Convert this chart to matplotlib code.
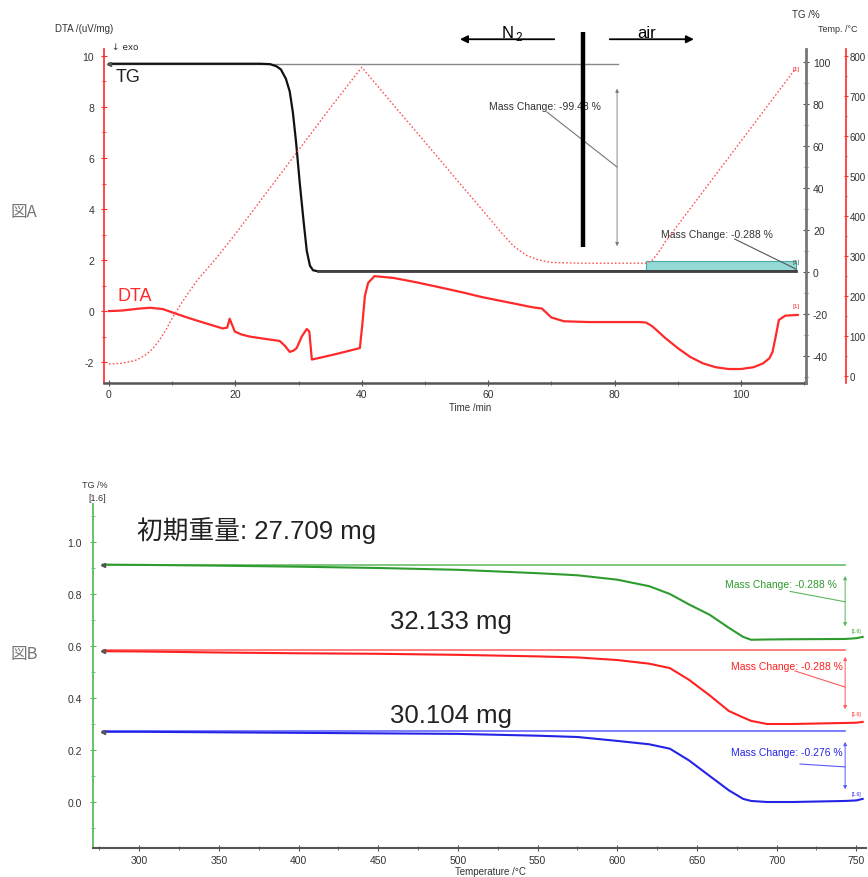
import matplotlib
matplotlib.use('Agg')
import matplotlib.pyplot as plt
from matplotlib.ticker import MultipleLocator

plt.rcParams['font.family'] = ['Liberation Sans', 'Noto Sans CJK JP', 'DejaVu Sans']
plt.rcParams['mathtext.fontset'] = 'custom'
plt.rcParams['mathtext.rm'] = 'Liberation Sans'
plt.rcParams['axes.unicode_minus'] = False

# ---------------- Panel A data ----------------
time_dta = [0, 2, 4.9, 6.5, 8.5, 10, 12, 14, 16, 18, 18.7, 19.1, 19.5, 19.9, 21, 22.3, 25, 27,
            27.8, 28.6, 29.2, 29.7, 30.5, 31.3, 31.7, 32.1, 33, 36, 39.7, 40.1, 40.5, 41, 42,
            45, 48.6, 52, 56, 59, 63, 67, 68.5, 70, 72, 76, 80, 84, 85, 86, 88, 90, 92, 94,
            96, 98, 100, 102, 103.5, 104.5, 105, 105.5, 106, 107, 109]
dta = [0, 0.02, 0.1, 0.13, 0.08, -0.05, -0.22, -0.38, -0.53, -0.68, -0.65, -0.3, -0.55, -0.8,
       -0.92, -1.0, -1.1, -1.17, -1.35, -1.6, -1.55, -1.45, -1.0, -0.7, -0.8, -1.9, -1.85, -1.68,
       -1.45, -0.5, 0.6, 1.1, 1.37, 1.3, 1.13, 0.95, 0.73, 0.55, 0.35, 0.15, 0.1, -0.25, -0.4,
       -0.43, -0.43, -0.43, -0.45, -0.6, -1.05, -1.45, -1.8, -2.05, -2.2, -2.27, -2.27, -2.2,
       -2.05, -1.85, -1.6, -1.0, -0.35, -0.18, -0.15]

time_tg = [0, 24, 25.5, 26.5, 27.2, 28, 28.6, 29.1, 29.6, 30.2, 30.8, 31.3, 31.8, 32.3, 33,
           60, 85, 108.7]
tg = [99.2, 99.2, 99.0, 98, 96.5, 92, 86, 76, 62, 42, 24, 10, 3, 0.8, 0.4, 0.4, 0.4, 0.4]

time_temp = [0, 2, 4, 5, 6, 7, 8, 9, 10, 11, 12, 14, 17, 20, 25, 30, 35, 40, 45, 50, 55, 60,
             62, 64, 66, 68, 70, 75, 80, 85, 86, 87, 88, 95, 100, 105, 108.7]
temp = [30, 32, 38, 45, 55, 70, 90, 115, 145, 170, 195, 240, 295, 355, 460, 565, 670, 772,
        678, 585, 491, 398, 360, 325, 302, 290, 284, 282, 282, 282, 290, 310, 335, 482, 587,
        692, 770]

mass_change_A = ["Mass Change: -99.48 %", "Mass Change: -0.288 %"]

# ---------------- Panel B data ----------------
temp_B = [277, 300, 350, 400, 450, 500, 550, 575, 600, 620, 633, 645, 658, 670, 679, 684,
          694, 710, 743, 750, 754]
tg_green = [0.913, 0.912, 0.909, 0.905, 0.900, 0.893, 0.880, 0.872, 0.855, 0.830, 0.800, 0.760,
            0.720, 0.670, 0.635, 0.624, 0.625, 0.626, 0.627, 0.630, 0.635]
tg_red = [0.580, 0.579, 0.575, 0.572, 0.570, 0.566, 0.560, 0.556, 0.546, 0.532, 0.515, 0.470,
          0.410, 0.350, 0.325, 0.312, 0.300, 0.300, 0.304, 0.305, 0.308]
tg_blue = [0.270, 0.270, 0.268, 0.266, 0.264, 0.262, 0.255, 0.250, 0.235, 0.222, 0.205, 0.160,
           0.100, 0.045, 0.012, 0.004, 0.0, 0.0, 0.004, 0.006, 0.012]
ref_levels = [0.912, 0.586, 0.273]
mass_change_B = ["Mass Change: -0.288 %", "Mass Change: -0.288 %", "Mass Change: -0.276 %"]
weights = ["初期重量: 27.709 mg", "32.133 mg", "30.104 mg"]

TXT = '#333333'
RED = '#ff2a2a'

fig = plt.figure(figsize=(8.68, 8.78), dpi=100)

# ================= Panel A =================
axA = fig.add_axes([0.1198, 0.5626, 0.8088, 0.3804])
ax_tg = axA.twinx()
ax_temp = axA.twinx()

axA.set_xlim(-0.79, 110.3)
axA.set_ylim(-2.82, 10.27)
ax_tg.set_ylim(-52.9, 106.2)
ax_temp.set_ylim(-17.5, 817.5)

for a in (axA, ax_tg, ax_temp):
    a.patch.set_visible(False)
    for s in a.spines.values():
        s.set_visible(False)

axA.spines['left'].set_visible(True)
axA.spines['left'].set_color(RED)
axA.spines['left'].set_linewidth(1.2)
axA.spines['bottom'].set_visible(True)
axA.spines['bottom'].set_color('#555555')
axA.spines['bottom'].set_linewidth(1.8)

ax_tg.spines['right'].set_visible(True)
ax_tg.spines['right'].set_color('#777777')
ax_tg.spines['right'].set_linewidth(2)

ax_temp.spines['right'].set_visible(True)
ax_temp.spines['right'].set_position(('axes', 1.057))
ax_temp.spines['right'].set_color(RED)
ax_temp.spines['right'].set_linewidth(1.2)

axA.xaxis.set_major_locator(MultipleLocator(20))
axA.xaxis.set_minor_locator(MultipleLocator(10))
axA.yaxis.set_major_locator(MultipleLocator(2))
axA.yaxis.set_minor_locator(MultipleLocator(1))
axA.tick_params(axis='y', which='both', direction='inout', colors=RED, labelcolor=TXT,
                labelsize=7.5, length=4, pad=5)
axA.tick_params(axis='y', which='minor', length=3)
axA.tick_params(axis='x', which='both', direction='inout', colors='#555555', labelcolor=TXT,
                labelsize=7.5, length=4, pad=2)
axA.tick_params(axis='x', which='minor', length=3)

ax_tg.yaxis.set_major_locator(MultipleLocator(20))
ax_tg.yaxis.set_minor_locator(MultipleLocator(10))
ax_tg.tick_params(axis='y', which='both', direction='inout', colors='#555555', labelcolor=TXT,
                  labelsize=7.5, length=4, pad=3)
ax_tg.tick_params(axis='y', which='minor', length=3)
ax_temp.yaxis.set_major_locator(MultipleLocator(100))
ax_temp.yaxis.set_minor_locator(MultipleLocator(50))
ax_temp.tick_params(axis='y', which='both', direction='inout', colors=RED, labelcolor=TXT,
                    labelsize=7, length=3, pad=1)
ax_temp.tick_params(axis='y', which='minor', length=2)
ax_tg.tick_params(axis='x', which='both', bottom=False, labelbottom=False)
ax_temp.tick_params(axis='x', which='both', bottom=False, labelbottom=False)

# curves
axA.plot(time_dta, dta, color=RED, lw=1.6, zorder=3)
ax_temp.plot(time_temp, temp, color='#ff5555', lw=1.0, ls=(0, (1.2, 1.5)), zorder=2)
ax_tg.fill_between([85, 108.7], 0.4, 5.2, color='#93dad6', edgecolor='#4aaaa6', lw=0.8, zorder=1)
ax_tg.plot([0, 80.5], [tg[0], tg[0]], color='#888888', lw=1.0, zorder=2)
ax_tg.plot(time_tg, tg, color='#111111', lw=1.6, zorder=3)
ax_tg.plot([33, 108.7], [0.4, 0.4], color='#444444', lw=2.0, zorder=3)
ax_tg.plot([time_tg[0]], [tg[0]], marker='<', ms=3, color='#555555', zorder=4)

# mass change annotation 1
ax_tg.annotate('', xy=(80.4, 11), xytext=(80.4, 88.6),
               arrowprops=dict(arrowstyle='<|-|>', color='#777777', lw=0.6,
                               mutation_scale=5), zorder=3)
ax_tg.plot([69.3, 80.4], [76.2, 50], color='#777777', lw=0.8, zorder=3)
ax_tg.text(69, 79, mass_change_A[0], fontsize=7.5, color=TXT, ha='center', va='center', zorder=3)
# mass change annotation 2
ax_tg.plot([99, 108.7], [15.7, 1.4], color='#555555', lw=0.8, zorder=3)
ax_tg.text(96.2, 18.3, mass_change_A[1], fontsize=7.5, color=TXT, ha='center', va='center', zorder=3)

# [1] tags
ax_temp.text(108.7, 770, '[1]', fontsize=4.5, color=RED, ha='center', va='center')
ax_tg.text(108.7, 5.2, '[1]', fontsize=4.5, color='#555555', ha='center', va='center')
axA.text(108.7, 0.2, '[1]', fontsize=4.5, color=RED, ha='center', va='center')

# separator and gas labels
ax_temp.plot([75, 75], [(12 + 52.9) / 159.1 * 835 - 17.5, 860], color='black', lw=3.2,
             clip_on=False, zorder=5, solid_capstyle='butt')
ax_temp.annotate('', xy=(55.1, 842), xytext=(70.9, 842), annotation_clip=False,
                 arrowprops=dict(arrowstyle='-|>', color='black', lw=1.3, mutation_scale=11))
ax_temp.annotate('', xy=(93, 842), xytext=(78.8, 842), annotation_clip=False,
                 arrowprops=dict(arrowstyle='-|>', color='black', lw=1.3, mutation_scale=11))
ax_temp.text(63.8, 860, r'N$_{\,2}$', fontsize=12, color='black', ha='center', va='center',
             clip_on=False)
ax_temp.text(85.1, 860, 'air', fontsize=12, color='black', ha='center', va='center',
             clip_on=False)

# labels
axA.text(1.0, 9.18, 'TG', fontsize=13, color='#222222', ha='left', va='center')
axA.text(1.3, 0.63, 'DTA', fontsize=13, color=RED, ha='left', va='center')
axA.text(-0.0698, 1.062, 'DTA /(uV/mg)', transform=axA.transAxes, fontsize=7, color=TXT,
         ha='left', va='center')
axA.text(0.012, 1.008, '↓ exo', transform=axA.transAxes, fontsize=6.5, color=TXT,
         ha='left', va='center', family=['DejaVu Sans'])
axA.text(1.0, 1.105, 'TG /%', transform=axA.transAxes, fontsize=7, color=TXT,
         ha='center', va='center')
axA.text(1.017, 1.062, 'Temp. /°C', transform=axA.transAxes, fontsize=6.5, color=TXT,
         ha='left', va='center')
axA.text(0.521, -0.072, 'Time /min', transform=axA.transAxes, fontsize=7, color=TXT,
         ha='center', va='center')

fig.text(10 / 868, 1 - 213 / 878, '図A', fontsize=12, color='#777777', ha='left', va='center',
         family=['Noto Sans CJK JP'])
fig.text(10 / 868, 1 - 654 / 878, '図B', fontsize=12, color='#777777', ha='left', va='center',
         family=['Noto Sans CJK JP'])

# ================= Panel B =================
axB = fig.add_axes([0.1071, 0.0330, 0.8906, 0.3918])
axB.set_xlim(270.9, 756.1)
axB.set_ylim(-0.177, 1.146)
axB.patch.set_visible(False)
for s in axB.spines.values():
    s.set_visible(False)
axB.spines['left'].set_visible(True)
axB.spines['left'].set_color('#66c266')
axB.spines['left'].set_linewidth(1.4)
axB.spines['bottom'].set_visible(True)
axB.spines['bottom'].set_color('#555555')
axB.spines['bottom'].set_linewidth(1.5)
axB.xaxis.set_major_locator(MultipleLocator(50))
axB.xaxis.set_minor_locator(MultipleLocator(25))
axB.yaxis.set_major_locator(MultipleLocator(0.2))
axB.yaxis.set_minor_locator(MultipleLocator(0.1))
axB.yaxis.set_major_formatter(plt.FuncFormatter(lambda v, p: f'{v:.1f}'))
axB.tick_params(axis='y', which='both', direction='inout', colors='#55b855', labelcolor=TXT,
                labelsize=7.5, length=4, pad=6)
axB.tick_params(axis='y', which='minor', length=3)
axB.tick_params(axis='x', which='both', direction='inout', colors='#555555', labelcolor=TXT,
                labelsize=7.5, length=4, pad=3)
axB.tick_params(axis='x', which='minor', length=3)

series = [(tg_green, '#2e9b2e', '#5cb85c'), (tg_red, '#ff2020', '#ff5a5a'),
          (tg_blue, '#2424e6', '#5a5aff')]
arrow_tops = [0.88, 0.569, 0.242]
arrow_bots = [0.665, 0.346, 0.038]
leader = [((708.4, 0.81), (743, 0.77)), ((711.5, 0.504), (743, 0.442)),
          ((714.7, 0.146), (743, 0.135))]
text_pos = [(702.8, 0.838), (706.6, 0.523), (706.6, 0.192)]
for i, (vals, c, lc) in enumerate(series):
    axB.plot([temp_B[0], 743], [ref_levels[i], ref_levels[i]], color=lc, lw=1.1, zorder=2)
    axB.plot(temp_B, vals, color=c, lw=1.5, zorder=3)
    axB.plot([temp_B[0]], [vals[0]], marker='<', ms=3, color='#555555', zorder=4)
    axB.annotate('', xy=(743, arrow_bots[i]), xytext=(743, arrow_tops[i]),
                 arrowprops=dict(arrowstyle='<|-|>', color=lc, lw=0.7, mutation_scale=5))
    axB.plot([leader[i][0][0], leader[i][1][0]], [leader[i][0][1], leader[i][1][1]],
             color=lc, lw=0.8, zorder=3)
    axB.text(text_pos[i][0], text_pos[i][1], mass_change_B[i], fontsize=7.5, color=c,
             ha='center', va='center')
    axB.text(750, arrow_bots[i] - 0.005, '[1.6]', fontsize=3.5, color=c, ha='center',
             va='center')

axB.text(298.6, 1.046, weights[0], fontsize=18.5, color='#222222', ha='left', va='center')
axB.text(457.5, 0.696, weights[1], fontsize=18.5, color='#222222', ha='left', va='center')
axB.text(457.5, 0.335, weights[2], fontsize=18.5, color='#222222', ha='left', va='center')

axB.text(0.003, 1.058, 'TG /%', transform=axB.transAxes, fontsize=6.5, color=TXT,
         ha='center', va='center')
axB.text(0.006, 1.020, '[1.6]', transform=axB.transAxes, fontsize=6.5, color=TXT,
         ha='center', va='center')
axB.text(0.514, -0.067, 'Temperature /°C', transform=axB.transAxes, fontsize=7, color=TXT,
         ha='center', va='center')

fig.savefig('out.png', dpi=100)
